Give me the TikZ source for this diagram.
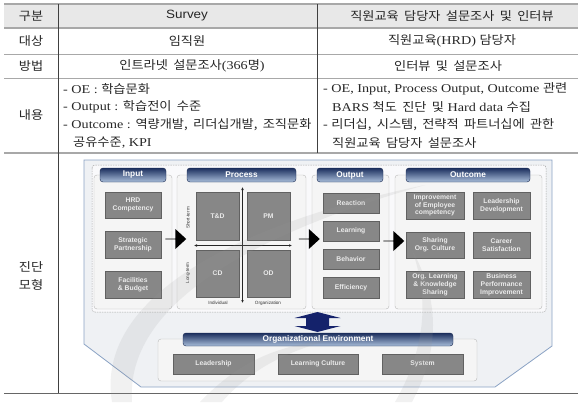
\documentclass[tikz,border=0pt]{standalone}
\usepackage{fontspec}
\setmainfont{Liberation Serif}[FakeStretch=1.18]
\newfontfamily\kr{Noto Sans CJK KR}[FakeStretch=1.1, WordSpace=1.8]
\newfontfamily\tsans{Liberation Sans}[FakeStretch=1.12]
\newfontfamily\dsans{Liberation Sans}
\usetikzlibrary{shapes.arrows,arrows.meta}
\definecolor{navy}{HTML}{14226B}
\definecolor{hdrtop}{HTML}{1C2F5E}
\definecolor{hdrbot}{HTML}{A9BEDA}
\definecolor{panelc}{HTML}{EFF1F4}
\definecolor{panelb}{HTML}{8AA2C4}
\definecolor{gboxc}{HTML}{878787}
\definecolor{rulec}{HTML}{A8A8A8}
\tikzset{
  tbltext/.style={font=\fontsize{12}{14}\selectfont, inner sep=0pt, text=black!85},
  colbox/.style={draw=black!27, fill=black!4, rounded corners=3pt, inner sep=0pt},
  hdr/.style={draw=hdrtop!85!black, rounded corners=3pt, top color=hdrtop, bottom color=hdrbot, text=white, inner sep=0pt, font=\dsans\bfseries\fontsize{8.3}{9}\selectfont},
  gbox/.style={draw=black!62, fill=gboxc, text=white!92!black, inner sep=0pt, align=center, font=\dsans\bfseries\fontsize{6.8}{7.8}\selectfont},
  axlabel/.style={font=\dsans\fontsize{4.6}{5}\selectfont, inner sep=0pt, text=black!80},
  axline/.style={black!85, line width=0.5pt},
  blockarrow/.style={single arrow, fill=black, inner sep=0pt, minimum width=20pt, single arrow head extend=4pt, single arrow tip angle=85, minimum height=21pt},
  wmark/.style={fill=black!40, fill opacity=0.14, draw=none}
}
\newcommand\bx[7]{\node[#6, minimum width={#4pt-#2pt}, minimum height={#5pt-#3pt}] (#1) at ({(#2+#4)/2},{(#3+#5)/2}) {#7};}
\begin{document}
\begin{tikzpicture}[x=1pt,y=-1pt]
\useasboundingbox (0,0) rectangle (586,402);
% ---------- table ----------
\fill[black!9] (4,4) rectangle (578,28);
\draw[rulec, line width=1.6pt] (4,4) -- (578,4);
\draw[rulec, line width=1.2pt] (4,28) -- (578,28);
\draw[rulec, line width=0.8pt] (4,54) -- (578,54);
\draw[rulec, line width=0.8pt] (4,78) -- (578,78);
\draw[rulec, line width=1.6pt] (4,153) -- (578,153);
\draw[black!60, line width=0.8pt] (4,393) -- (578,393);
\draw[black!75, line width=0.6pt] (58,4) -- (58,393);
\draw[black!75, line width=0.6pt] (317,4) -- (317,153);

\node[tbltext] (h1) at (31,16) {\kr 구분};
\node[tbltext] (h2) at (187,16) {\tsans Survey};
\node[tbltext] (h3) at (452,16) {\kr 직원교육 담당자 설문조사 및 인터뷰};
\node[tbltext] (r1a) at (31,41) {\kr 대상};
\node[tbltext] (r1b) at (187,41) {\kr 임직원};
\node[tbltext] (r1c) at (452,41) {{\kr 직원교육}(HRD) {\kr 담당자}};
\node[tbltext] (r2a) at (31,66) {\kr 방법};
\node[tbltext] (r2b) at (192,66) {{\kr 인트라넷 설문조사}(366{\kr 명})};
\node[tbltext] (r2c) at (448,66) {\kr 인터뷰 및 설문조사};
\node[tbltext] (r3a) at (31,115) {\kr 내용};
\node[tbltext, anchor=west] (l1) at (63,89) {- OE : {\kr 학습문화}};
\node[tbltext, anchor=west] (l2) at (63,107) {- Output : {\kr 학습전이 수준}};
\node[tbltext, anchor=west] (l3) at (63,125) {- Outcome : {\kr 역량개발, 리더십개발, 조직문화}};
\node[tbltext, anchor=west] (l4) at (73,143) {{\kr 공유수준}, KPI};
\node[tbltext, anchor=west] (m1) at (323,89) {- OE, Input, Process Output, Outcome {\kr 관련}};
\node[tbltext, anchor=west] (m2) at (332,107) {BARS {\kr 척도 진단 및} Hard data {\kr 수집}};
\node[tbltext, anchor=west] (m3) at (323,125) {- {\kr 리더십, 시스템, 전략적 파트너십에 관한}};
\node[tbltext, anchor=west] (m4) at (332,143) {\kr 직원교육 담당자 설문조사};
\node[tbltext, align=center, font=\fontsize{12}{18}\selectfont] (r4a) at (31,276) {\kr 진단\\\kr 모형};

% ---------- diagram ----------
\draw[fill=panelc, draw=panelb, line width=0.8pt] (84,160) -- (552,160) -- (552,346) -- (495,387) -- (141,387) -- (84,344) -- cycle;
\draw[black!35, dashed, dash pattern=on 1.5pt off 1pt, fill=white!60!panelc, rounded corners=3pt, line width=0.5pt] (92,165) rectangle (546,312);

\bx{cin}{94}{175}{172}{309}{colbox}{}
\bx{cpr}{177}{175}{306}{309}{colbox}{}
\bx{cout}{312}{175}{389}{309}{colbox}{}
\bx{coc}{395}{175}{542}{309}{colbox}{}

\bx{hin}{100}{168}{166}{182}{hdr}{Input}
\bx{hpr}{187}{168}{296}{182}{hdr}{Process}
\bx{hout}{317}{168}{383}{182}{hdr}{Output}
\bx{hoc}{406}{168}{530}{182}{hdr}{Outcome}

% input
\bx{i1}{105}{192}{161}{218}{gbox}{HRD\\Competency}
\bx{i2}{105}{231}{161}{258}{gbox}{Strategic\\Partnership}
\bx{i3}{105}{271}{161}{298}{gbox}{Facilities\\\& Budget}
% process
\bx{p1}{196}{192}{239}{240}{gbox}{T\&D}
\bx{p2}{247}{192}{290}{240}{gbox}{PM}
\bx{p3}{196}{250}{239}{297}{gbox}{CD}
\bx{p4}{247}{250}{290}{297}{gbox}{OD}
\coordinate (vt) at (242.5,187);
\coordinate (vb) at (242.5,303);
\coordinate (vc) at (242.5,245.5);
\coordinate (hl) at (194,245.5);
\coordinate (hr) at (292,245.5);
\draw[axline, -{Latex[length=3pt,width=2.6pt]}] (vc) -- (vt);
\draw[axline, -{Latex[length=3pt,width=2.6pt]}] (vc) -- (vb);
\draw[axline, {Latex[length=3pt,width=2.6pt]}-{Latex[length=3pt,width=2.6pt]}] (hl) -- (hr);
\node[axlabel, rotate=90] (st) at (188,218) {Short-term};
\node[axlabel, rotate=90] (lt) at (188,273) {Long-term};
\node[axlabel] (ind) at (218,303) {Individual};
\node[axlabel] (org) at (268,303) {Organization};
% output
\bx{o1}{323}{193}{379}{213}{gbox}{Reaction}
\bx{o2}{323}{221}{379}{241}{gbox}{Learning}
\bx{o3}{323}{249}{379}{269}{gbox}{Behavior}
\bx{o4}{323}{277}{379}{298}{gbox}{Efficiency}
% outcome
\bx{u1}{406}{192}{464}{219}{gbox}{Improvement\\of Employee\\competency}
\bx{u2}{473}{192}{530}{219}{gbox}{Leadership\\Development}
\bx{u3}{406}{232}{464}{258}{gbox}{Sharing\\Org. Culture}
\bx{u4}{473}{232}{530}{258}{gbox}{Career\\Satisfaction}
\bx{u5}{406}{271}{464}{298}{gbox}{Org. Learning\\\& Knowledge\\Sharing}
\bx{u6}{473}{271}{530}{298}{gbox}{Business\\Performance\\Improvement}

% block arrows
\node[blockarrow] (a1) at (175.5,239) {};
\node[blockarrow] (a2) at (309,239) {};
\node[blockarrow] (a3) at (393.5,241) {};

% double arrow
\coordinate (dc) at (317.5,322);
\fill[navy] ([shift={(0,-10)}]dc) -- ++(23,6) -- ++(-11.5,0) -- ++(0,8) -- ++(11.5,0)
  -- ([shift={(0,10)}]dc) -- ++(-23,-6) -- ++(11.5,0) -- ++(0,-8) -- ++(-11.5,0) -- cycle;

% org environment
\bx{env}{158}{339}{477}{381}{colbox}{}
\bx{henv}{183}{333}{453}{346}{hdr}{Organizational Environment}
\bx{e1}{173}{354}{254}{374}{gbox}{Leadership}
\bx{e2}{278}{354}{358}{374}{gbox}{Learning Culture}
\bx{e3}{382}{354}{463}{374}{gbox}{System}

% faint watermark swooshes
\fill[wmark] (112,402) .. controls (95,300) and (230,225) .. (425,185) .. controls (250,235) and (125,305) .. (132,402) -- cycle;
\fill[wmark] (395,402) .. controls (425,350) and (430,300) .. (412,250) .. controls (440,300) and (440,350) .. (412,402) -- cycle;
\fill[wmark] (200,402) .. controls (240,360) and (280,345) .. (330,340) .. controls (285,352) and (250,370) .. (222,402) -- cycle;
\end{tikzpicture}
\end{document}
